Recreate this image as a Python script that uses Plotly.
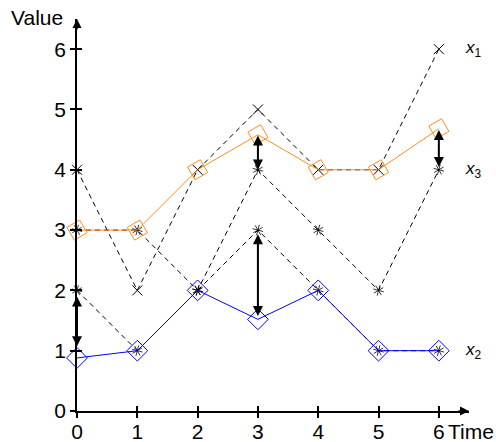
import plotly.graph_objects as go

time = [0, 1, 2, 3, 4, 5, 6]
x1 = [4, 2, 4, 5, 4, 4, 6]
x2 = [2, 1, 2, 3, 2, 1, 1]
x3 = [3, 3, 2, 4, 3, 2, 4]
est_orange = [3, 3, 4, 4.58, 4, 4, 4.68]
est_blue = [0.88, 1, 2, 1.52, 2, 1, 1]

arrow_t = [0, 3, 3, 6]
arrow_lo = [1.05, 1.55, 3.98, 4.02]
arrow_hi = [1.9, 2.93, 4.57, 4.66]

tick_vals = [0, 1, 2, 3, 4, 5, 6]
series_labels = ["<i>x</i><sub>1</sub>", "<i>x</i><sub>2</sub>", "<i>x</i><sub>3</sub>"]
label_vals = [x1[-1], x2[-1], x3[-1]]

FONT = "Liberation Sans, Arial, sans-serif"

fig = go.Figure()

dash = "5px,4px"
fig.add_trace(go.Scatter(x=time, y=x1, mode="lines+markers", cliponaxis=False,
                         line=dict(color="black", width=1, dash=dash),
                         marker=dict(symbol="x-thin-open", size=10, color="black",
                                     line=dict(color="black", width=1))))
fig.add_trace(go.Scatter(x=time, y=x2, mode="lines+markers", cliponaxis=False,
                         line=dict(color="black", width=1, dash=dash),
                         marker=dict(symbol="asterisk-open", size=9, angle=15, color="black",
                                     line=dict(color="black", width=0.8))))
fig.add_trace(go.Scatter(x=time, y=x3, mode="lines+markers", cliponaxis=False,
                         line=dict(color="black", width=1, dash=dash),
                         marker=dict(symbol="asterisk-open", size=9, angle=15, color="black",
                                     line=dict(color="black", width=0.8))))
fig.add_trace(go.Scatter(x=time, y=est_blue, mode="lines+markers", cliponaxis=False,
                         line=dict(color="#0000FF", width=1),
                         marker=dict(symbol="diamond-open", size=16, color="#0000FF",
                                     line=dict(color="#0000FF", width=1))))
fig.add_trace(go.Scatter(x=time, y=est_orange, mode="lines+markers", cliponaxis=False,
                         line=dict(color="#FF8C1A", width=1),
                         marker=dict(symbol="diamond-open", size=16, angle=15, color="#FF8C1A",
                                     line=dict(color="#FF8C1A", width=1))))
# overlay axes for crossing ticks
fig.add_trace(go.Scatter(x=[], y=[], xaxis="x2", yaxis="y2", showlegend=False))

annotations = []
for t, lo, hi in zip(arrow_t, arrow_lo, arrow_hi):
    annotations.append(dict(x=t, y=hi, ax=t, ay=lo, xref="x", yref="y", axref="x", ayref="y",
                            text="", showarrow=True, arrowhead=2, startarrowhead=2,
                            arrowside="end+start", arrowwidth=2, arrowsize=1,
                            startarrowsize=1, arrowcolor="black"))
for lab, v in zip(series_labels, label_vals):
    annotations.append(dict(x=6.4, y=v, xref="x", yref="y", text=lab, showarrow=False,
                            xanchor="left", yanchor="middle",
                            font=dict(family=FONT, size=17, color="black")))
# axis arrowheads
annotations.append(dict(x=6.5, y=0, ax=6.3, ay=0, xref="x", yref="y", axref="x", ayref="y",
                        text="", showarrow=True, arrowhead=2, arrowwidth=1.5, arrowsize=1.2,
                        arrowcolor="black"))
annotations.append(dict(x=0, y=6.5, ax=0, ay=6.3, xref="x", yref="y", axref="x", ayref="y",
                        text="", showarrow=True, arrowhead=2, arrowwidth=1.5, arrowsize=1.2,
                        arrowcolor="black"))
annotations.append(dict(x=37, y=18, xref="paper", yref="paper", text="Value", showarrow=False,
                        font=dict(family=FONT, size=21, color="black")))
annotations.append(dict(x=446, y=431, xref="paper", yref="paper", text="Time", showarrow=False,
                        xanchor="left", font=dict(family=FONT, size=21, color="black")))

# convert pixel-positioned annotations to paper coords
W, H = 496, 442
ml, mr, mt, mb = 77, 27, 19, 31
pw, ph = W - ml - mr, H - mt - mb
for a in annotations[-2:]:
    px, py = a["x"], a["y"]
    a["x"] = (px - ml) / pw
    a["y"] = 1 - (py - mt) / ph
    a["xanchor"] = a.get("xanchor", "center")
    a["yanchor"] = "middle"

axis_common = dict(showgrid=False, zeroline=False, showline=True, linecolor="black",
                   linewidth=1.5, tickvals=tick_vals, ticks="outside", ticklen=5,
                   tickwidth=1.5, tickcolor="black", automargin=False,
                   tickfont=dict(family=FONT, size=21, color="black"))

fig.update_layout(
    width=W, height=H,
    margin=dict(l=ml, r=mr, t=mt, b=mb, autoexpand=False),
    paper_bgcolor="white", plot_bgcolor="white",
    showlegend=False,
    xaxis=dict(range=[0, 6.5], ticklabelstandoff=-4, **axis_common),
    yaxis=dict(range=[0, 6.5], **axis_common),
    xaxis2=dict(overlaying="x", matches="x", anchor="y2", range=[0, 6.5], showgrid=False,
                zeroline=False, showline=False, tickvals=tick_vals, ticks="inside", ticklen=5,
                tickwidth=1.5, tickcolor="black", showticklabels=False, automargin=False),
    yaxis2=dict(overlaying="y", matches="y", anchor="x2", range=[0, 6.5], showgrid=False,
                zeroline=False, showline=False, tickvals=tick_vals, ticks="inside", ticklen=5,
                tickwidth=1.5, tickcolor="black", showticklabels=False, automargin=False),
    annotations=annotations,
)

fig.write_html("out.html")
